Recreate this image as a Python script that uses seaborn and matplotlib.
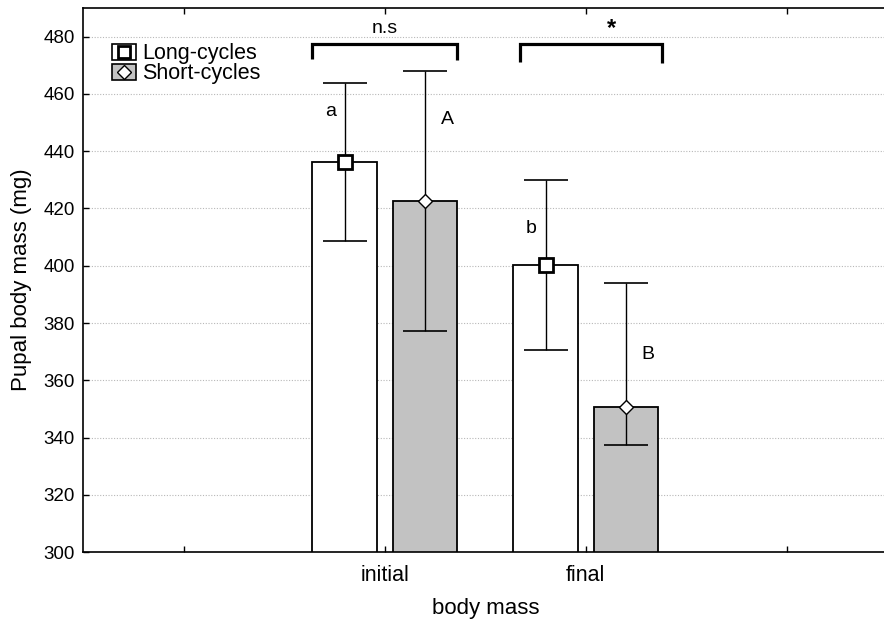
import pandas as pd
import seaborn as sns
import matplotlib.pyplot as plt
from matplotlib.patches import Patch
from matplotlib.lines import Line2D

# data
stages = ["initial", "final"]
groups = ["Long-cycles", "Short-cycles"]
long_mean = [436.3, 400.3]
long_lo = [408.5, 370.5]
long_hi = [464.0, 430.0]
short_mean = [422.5, 350.8]
short_lo = [377.3, 337.5]
short_hi = [468.0, 394.0]
letters_long = ["a", "b"]
letters_short = ["A", "B"]
order = ["_l", "initial", "final", "_r"]
tick_labels = ["", "initial", "final", ""]

df = pd.DataFrame({
    "stage": stages * 2,
    "group": [groups[0]] * 2 + [groups[1]] * 2,
    "mass": long_mean + short_mean,
    "lo": long_lo + short_lo,
    "hi": long_hi + short_hi,
})

sns.set_theme(style="white")
plt.rcParams["font.family"] = ["Liberation Sans", "DejaVu Sans"]
plt.rcParams["text.color"] = "black"
plt.rcParams["axes.labelcolor"] = "black"

fig = plt.figure(figsize=(8.84, 6.21), dpi=100)
ax = fig.add_axes([0.094, 0.111, 0.91, 0.876])

grey = "#c2c2c2"
ax = sns.barplot(data=df, x="stage", y="mass", hue="group", order=order,
                 hue_order=groups, palette=["white", grey], gap=0.2,
                 edgecolor="black", linewidth=1.3, errorbar=None,
                 legend=False, ax=ax, zorder=2)
bars = list(ax.containers[:2])

markers = ["s", "D"]
msizes = [10, 7.5]
mews = [2.0, 1.0]
letters = [letters_long, letters_short]
# letter label heights, below the upper whisker
letter_drop = [[10, 17], [17, 25]]
for k, cont in enumerate(bars):
    sub = df[df["group"] == groups[k]]
    for j, bar in enumerate(cont):
        x = bar.get_x() + bar.get_width() / 2
        m, lo, hi = sub["mass"].iloc[j], sub["lo"].iloc[j], sub["hi"].iloc[j]
        ax.errorbar([x], [m], yerr=[[m - lo], [hi - m]], fmt="none",
                    ecolor="black", elinewidth=1.0, capsize=16, capthick=1.2,
                    zorder=3)
        ax.plot([x], [m], marker=markers[k], ms=msizes[k], mfc="white",
                mec="black", mew=mews[k], zorder=4)
        dx = -0.07 if k == 0 else 0.11
        ax.text(x + dx, hi - letter_drop[k][j], letters[k][j],
                fontsize=14, ha="center", va="center")

# significance brackets
brackets = [("n.s", 0, 471.8), ("*", 1, 470.8)]
for txt, j, low in brackets:
    b0 = bars[0][j]
    b1 = bars[1][j]
    x0 = b0.get_x() + (0 if j == 0 else 0.03)
    x1 = b1.get_x() + b1.get_width() + (0 if j == 0 else 0.02)
    ax.plot([x0, x0, x1, x1], [low + 0.5, 477.6, 477.6, low], color="black",
            lw=2.3, solid_joinstyle="miter", solid_capstyle="butt", zorder=5)
    if j == 0:
        ax.text((x0 + x1) / 2, 481.3, txt, ha="center", va="baseline",
                fontsize=14)
    else:
        ax.text((x0 + x1) / 2 + 0.1, 483.0, txt, ha="center", va="center",
                fontsize=17, fontweight="bold")

ax.set_ylim(300, 490)
ax.set_xlim(-0.5, 3.5)
ax.set_yticks(range(300, 481, 20))
ax.set_xticks(range(len(order)))
ax.set_xticklabels(tick_labels)
ax.yaxis.grid(True, linestyle=(0, (1, 1.5)), color="#b8b8b8", linewidth=0.8)
ax.set_axisbelow(True)
ax.tick_params(axis="both", direction="in", length=4, width=1, colors="black",
               top=True, left=True, bottom=True)
ax.tick_params(axis="x", pad=9, labelsize=15.5)
ax.tick_params(axis="y", pad=6, labelsize=13.5)
for s in ax.spines.values():
    s.set_color("black")
    s.set_linewidth(1.2)
ax.set_ylabel("Pupal body mass (mg)", fontsize=16, labelpad=8)
ax.set_xlabel("body mass", fontsize=16, labelpad=9)

handles = [(Patch(facecolor="white", edgecolor="black", lw=1.2),
            Line2D([], [], marker="s", ms=9, mfc="white", mec="black", mew=2, ls="")),
           (Patch(facecolor=grey, edgecolor="black", lw=1.2),
            Line2D([], [], marker="D", ms=7, mfc="white", mec="black", mew=1, ls=""))]
ax.legend(handles, groups, loc="upper left", bbox_to_anchor=(0.036, 0.935),
          frameon=False, fontsize=15.5, handlelength=1.1, handleheight=0.75,
          handletextpad=0.3, labelspacing=-0.05, borderaxespad=0.0,
          borderpad=0.0)

fig.savefig("out.png", dpi=100)
